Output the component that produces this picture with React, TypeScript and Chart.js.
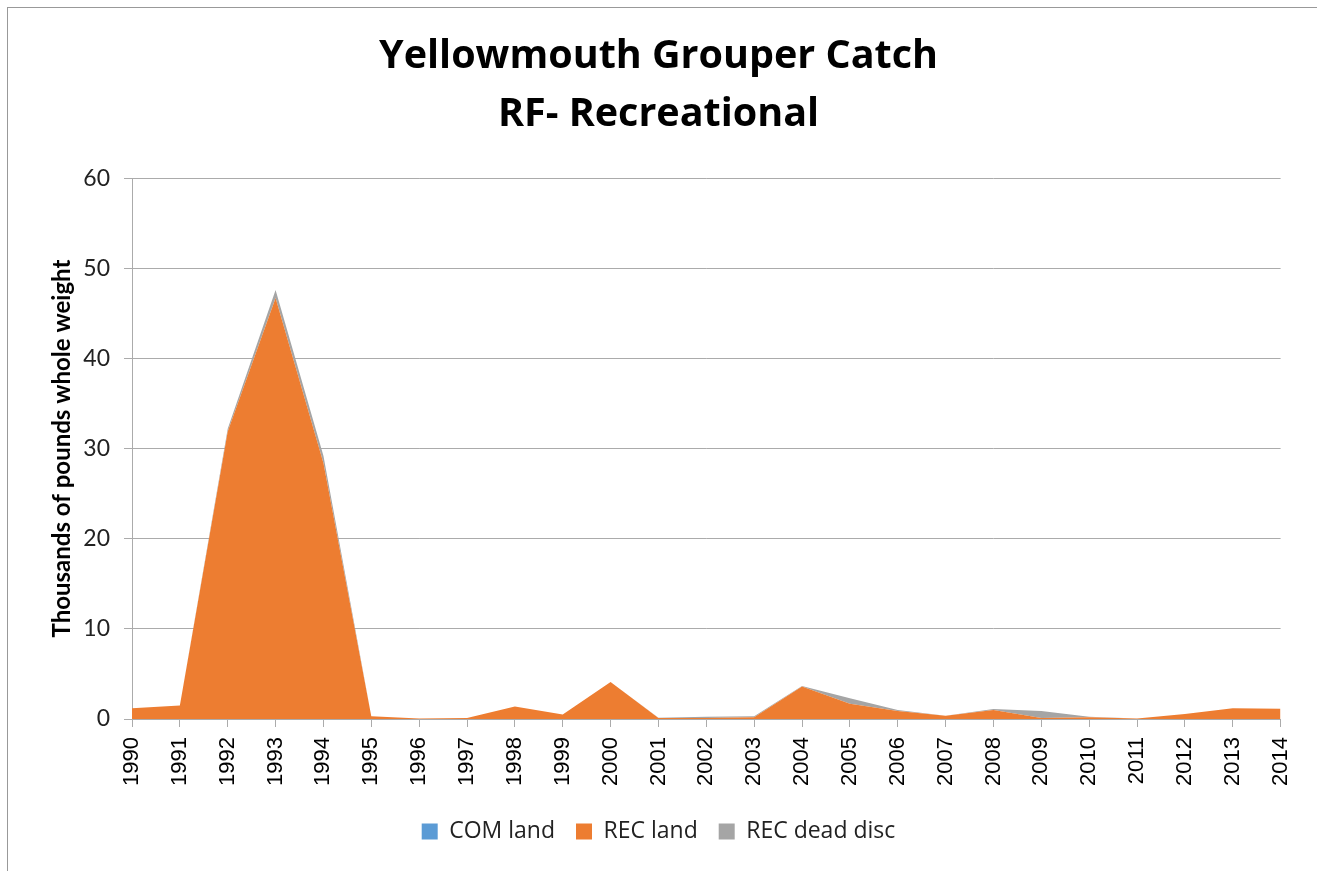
import React, { useEffect, useRef } from "react";
import { Chart, registerables } from "chart.js";

Chart.register(...registerables);

const years = [
  "1990", "1991", "1992", "1993", "1994", "1995", "1996", "1997", "1998", "1999",
  "2000", "2001", "2002", "2003", "2004", "2005", "2006", "2007", "2008", "2009",
  "2010", "2011", "2012", "2013", "2014",
];
const comLand = [0, 0, 0, 0, 0, 0, 0, 0, 0, 0, 0, 0, 0, 0, 0, 0, 0, 0, 0, 0, 0, 0, 0, 0, 0];
const recLand = [
  1.2, 1.5, 31.9, 46.7, 28.4, 0.3, 0.05, 0.1, 1.4, 0.5,
  4.1, 0.1, 0.1, 0.2, 3.6, 1.7, 0.9, 0.35, 1.0, 0.1,
  0.2, 0.05, 0.55, 1.2, 1.15,
];
const recDeadDisc = [
  0, 0, 0.3, 0.9, 0.8, 0, 0, 0, 0, 0,
  0, 0.05, 0.15, 0.1, 0.05, 0.6, 0.1, 0, 0.1, 0.8,
  0.05, 0, 0, 0, 0,
];
const yTicks = [0, 10, 20, 30, 40, 50, 60];
const titleLines = ["Yellowmouth Grouper Catch", "RF- Recreational"];
const yTitle = "Thousands of pounds whole weight";

export default function App() {
  const ref = useRef<HTMLCanvasElement | null>(null);

  useEffect(() => {
    if (!ref.current) return;
    const gridColor = "#ababab";
    const chart = new Chart(ref.current, {
      type: "line",
      data: {
        labels: years,
        datasets: [
          {
            label: "COM land",
            data: comLand,
            backgroundColor: "#5B9BD5",
            borderColor: "#5B9BD5",
            borderWidth: 0,
            pointRadius: 0,
            fill: "origin",
            tension: 0,
          },
          {
            label: "REC land",
            data: recLand,
            backgroundColor: "#ED7D31",
            borderColor: "#ED7D31",
            borderWidth: 0,
            pointRadius: 0,
            fill: "-1",
            tension: 0,
          },
          {
            label: "REC dead disc",
            data: recDeadDisc,
            backgroundColor: "#A5A5A5",
            borderColor: "#A5A5A5",
            borderWidth: 0,
            pointRadius: 0,
            fill: "-1",
            tension: 0,
          },
        ],
      },
      options: {
        animation: false,
        responsive: false,
        maintainAspectRatio: false,
        layout: { padding: { left: 0, right: 0, top: 0, bottom: 18 } },
        plugins: {
          tooltip: { enabled: false },
          title: {
            display: true,
            text: titleLines,
            color: "#000",
            font: { family: "Open Sans", size: 39.5, weight: "bold", lineHeight: 1.47 },
            padding: { top: 28, bottom: 34 },
          },
          legend: {
            position: "bottom",
            labels: {
              color: "#222",
              font: { family: "Open Sans", size: 23 },
              boxWidth: 16,
              boxHeight: 16,
              padding: 21,
            },
          },
        },
        scales: {
          x: {
            offset: false,
            border: { display: true, color: gridColor, width: 1 },
            grid: {
              display: true,
              drawOnChartArea: false,
              drawTicks: true,
              tickLength: 8,
              color: gridColor,
            },
            ticks: {
              color: "#000",
              font: { family: "Liberation Sans", size: 22 },
              minRotation: 90,
              maxRotation: 90,
              autoSkip: false,
              padding: 10,
            },
            afterFit: (s: any) => {
              s.height = 80;
            },
          },
          y: {
            stacked: true,
            min: 0,
            max: 60,
            afterBuildTicks: (s: any) => {
              s.ticks = yTicks.map((v) => ({ value: v }));
            },
            border: { display: true, color: gridColor, width: 1 },
            grid: {
              color: gridColor,
              drawTicks: true,
              tickLength: 8,
            },
            ticks: {
              color: "#222",
              font: { family: "Lato", size: 23 },
              padding: 14,
            },
            title: {
              display: true,
              text: yTitle,
              color: "#000",
              font: { family: "Lato", size: 24, weight: "bold" },
              padding: { top: 48, bottom: 0 },
            },
            afterFit: (s: any) => {
              s.width = 132;
            },
          },
          yRightSpace: {
            type: "linear",
            position: "right",
            display: true,
            min: 0,
            max: 60,
            grid: { display: false, drawTicks: false },
            border: { display: false },
            ticks: { display: false },
            afterFit: (s: any) => {
              s.width = 34;
            },
          },
        },
      },
    });
    return () => chart.destroy();
  }, []);

  return (
    <div style={{ position: "absolute", left: 0, top: 0, width: 1317, height: 871, background: "#fff", overflow: "hidden" }}>
      <div
        style={{
          position: "absolute",
          left: 7,
          top: 7,
          width: 1310,
          height: 864,
          borderLeft: "1.5px solid #999",
          borderTop: "1.5px solid #999",
          boxSizing: "border-box",
        }}
      />
      <canvas ref={ref} width={1317} height={871} style={{ position: "absolute", left: 0, top: 0 }} />
    </div>
  );
}
